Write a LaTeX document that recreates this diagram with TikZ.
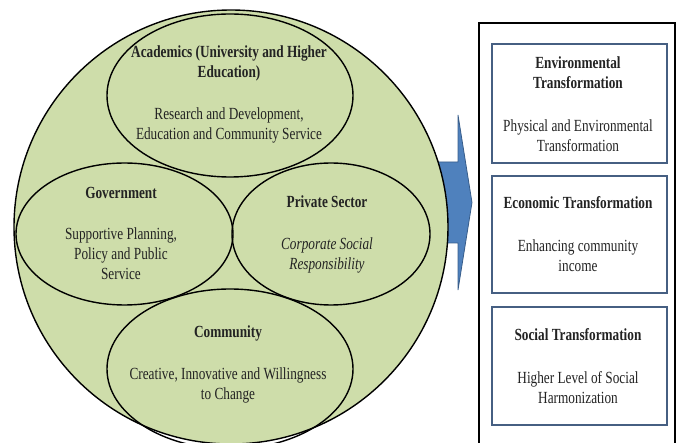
\documentclass[tikz,border=0pt]{standalone}
\usepackage{fontspec}
\setmainfont{Liberation Serif}[FakeStretch=0.78]
\usetikzlibrary{shapes.geometric}
\definecolor{circfill}{RGB}{206,221,170}
\definecolor{arrowfill}{RGB}{79,129,189}
\definecolor{arrowline}{RGB}{56,93,138}
\definecolor{boxline}{RGB}{70,95,130}
\definecolor{txt}{RGB}{35,35,35}
\newcommand{\lblfont}{\fontsize{17}{20}\selectfont}
\tikzset{
  oval/.style={draw=black, line width=1.4pt, ellipse, inner sep=0pt},
  tbox/.style={draw=boxline, line width=1.4pt, fill=white, rectangle, inner sep=0pt},
  lbl/.style={align=center, text=txt, inner sep=0pt, font=\lblfont},
  lblb/.style={lbl, font=\lblfont\bfseries},
  lbli/.style={lbl, font=\lblfont\itshape},
}
\begin{document}
\begin{tikzpicture}[x=1pt,y=-1pt]
\useasboundingbox (0,0) rectangle (678,443);
% arrow
\coordinate (a1) at (420,162);
\coordinate (a2) at (458,162);
\coordinate (a3) at (458,115);
\coordinate (tip) at (472,202.5);
\coordinate (a5) at (458,290);
\coordinate (a6) at (458,243);
\coordinate (a7) at (420,243);
\draw[fill=arrowfill, draw=arrowline, line width=0.8pt, line join=miter]
  (a1) -- (a2) -- (a3) -- (tip) -- (a5) -- (a6) -- (a7) -- cycle;
% big circle
\node[circle, draw=black, line width=1.4pt, fill=circfill, minimum size=434pt, inner sep=0pt] (big) at (231,227) {};
% ellipses
\node[oval, minimum width=246pt, minimum height=163pt] (acad) at (230,95.5) {};
\node[oval, minimum width=217pt, minimum height=142pt] (gov) at (124.5,234) {};
\node[oval, minimum width=198pt, minimum height=142pt] (priv) at (331,234) {};
\node[oval, minimum width=246pt, minimum height=160pt] (comm) at (230,369) {};
% texts in circle
\node[lblb] (acadt) at (229,63.5) {Academics (University and Higher\\Education)};
\node[lbl] (acadb) at (229,125) {Research and Development,\\Education and Community Service};
\node[lblb] (govt) at (121,193) {Government};
\node[lbl] (govb) at (121,254) {Supportive Planning,\\Policy and Public\\Service};
\node[lblb] (privt) at (327,202) {Private Sector};
\node[lbli] (privb) at (327,255) {Corporate Social\\Responsibility};
\node[lblb] (commt) at (228,333) {Community};
\node[lbl] (commb) at (228,385.5) {Creative, Innovative and Willingness\\to Change};
% right panel
\node[draw=black, line width=1.4pt, fill=white, rectangle, minimum width=196pt, minimum height=440pt, inner sep=0pt] (panel) at (577,243) {};
\node[tbox, minimum width=175pt, minimum height=119pt] (env) at (579.5,103.5) {};
\node[tbox, minimum width=175pt, minimum height=117pt] (eco) at (579.5,234.5) {};
\node[tbox, minimum width=175pt, minimum height=118pt] (soc) at (579.5,366) {};
\node[lblb] (envt) at (578,73) {Environmental\\Transformation};
\node[lbl] (envb) at (578,136) {Physical and Environmental\\Transformation};
\node[lblb] (ecot) at (578,203) {Economic Transformation};
\node[lbl] (ecob) at (578,256) {Enhancing community\\income};
\node[lblb] (soct) at (578,335) {Social Transformation};
\node[lbl] (socb) at (578,387.5) {Higher Level of Social\\Harmonization};
\end{tikzpicture}
\end{document}
